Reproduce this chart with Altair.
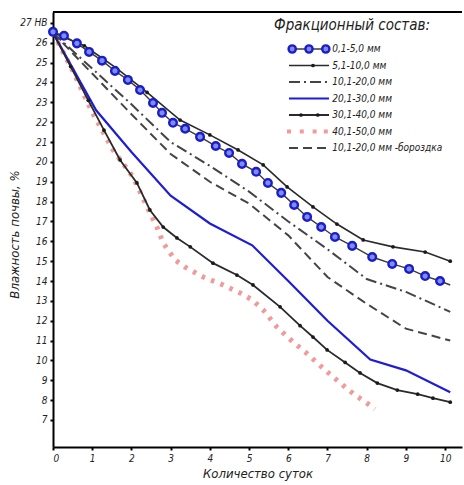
import altair as alt
import pandas as pd

# ---------------- data ----------------
labels = ["0,1-5,0 мм", "5,1-10,0 мм", "10,1-20,0 мм", "20,1-30,0 мм",
          "30,1-40,0 мм", "40,1-50,0 мм", "10,1-20,0 мм -бороздка"]

day_s1 = [0, 0.28, 0.61, 0.92, 1.25, 1.58, 1.91, 2.22, 2.55, 2.78, 3.06, 3.37, 3.75,
          4.15, 4.49, 4.82, 5.18, 5.48, 5.82, 6.15, 6.48, 6.84, 7.19, 7.63, 8.14,
          8.65, 9.08, 9.49, 9.87, 10.13]
val_s1 = [26.55, 26.35, 25.97, 25.54, 25.1, 24.58, 24.13, 23.62, 22.97, 22.47, 21.97,
          21.67, 21.26, 20.8, 20.45, 19.9, 19.5, 18.94, 18.44, 17.83, 17.23, 16.72,
          16.22, 15.77, 15.21, 14.86, 14.61, 14.25, 14.0, 13.8]

day_s2 = [0, 0.8, 1.6, 2.4, 3.24, 4.0, 4.72, 5.36, 5.97, 6.63, 7.24, 7.91, 8.67, 9.49, 10.13]
val_s2 = [26.5, 25.85, 24.75, 23.5, 22.11, 21.36, 20.6, 19.85, 18.74, 17.73, 16.87,
          16.07, 15.72, 15.46, 15.0]

day_s3 = [0, 1, 2, 3, 4, 5, 6, 7, 8, 9, 10.13]
val_s3 = [26.5, 24.7, 22.9, 21.0, 19.8, 18.5, 17.0, 15.6, 14.1, 13.45, 12.45]

day_s4 = [0, 1.1, 2, 3, 4, 5.08, 6, 7, 8.09, 9, 10.13]
val_s4 = [26.5, 22.6, 20.5, 18.3, 16.9, 15.8, 14.0, 12.0, 10.05, 9.5, 8.4]

day_s5 = [0, 0.45, 0.9, 1.3, 1.71, 2.14, 2.47, 2.81, 3.16, 3.5, 4.08, 4.69, 5.1, 5.79,
          6.3, 6.63, 6.99, 7.45, 7.83, 8.27, 8.78, 9.3, 9.69, 10.13]
val_s5 = [26.5, 24.8, 23.1, 21.6, 20.1, 18.94, 17.58, 16.72, 16.17, 15.72, 14.9, 14.3,
          13.8, 12.7, 11.75, 11.18, 10.53, 9.9, 9.37, 8.86, 8.51, 8.3, 8.1, 7.9]

day_s6 = [0, 0.5, 1, 1.53, 2.04, 2.4, 2.65, 2.81, 3.11, 3.37, 3.83, 4.34, 4.77, 5.08,
          5.36, 5.71, 6.12, 6.43, 6.89, 7.14, 7.45, 7.7, 8.0, 8.21]
val_s6 = [26.5, 24.6, 22.5, 20.6, 19.24, 17.73, 16.72, 15.92, 15.06, 14.7, 14.2, 13.8,
          13.4, 13.05, 12.54, 11.68, 10.93, 10.43, 9.6, 9.17, 8.66, 8.26, 7.86, 7.55]

day_s7 = [0, 1, 2, 3, 4, 5, 6, 7, 8, 9, 10.13]
val_s7 = [26.5, 24.45, 22.4, 20.4, 19.0, 17.9, 16.3, 14.2, 12.85, 11.6, 11.0]

x_ticks = list(range(0, 11))
y_ticks = list(range(7, 28))

series_days = [day_s1, day_s2, day_s3, day_s4, day_s5, day_s6, day_s7]
series_vals = [val_s1, val_s2, val_s3, val_s4, val_s5, val_s6, val_s7]

rows = []
for lab, ds, vs in zip(labels, series_days, series_vals):
    for d, v in zip(ds, vs):
        rows.append({"series": lab, "day": d, "moist": v})
df = pd.DataFrame(rows)

# ---------------- styling ----------------
W, H = 409, 435
FONT = "DejaVu Sans Condensed"

xscale = alt.Scale(domain=[0, 10.43], nice=False, zero=False)
yscale = alt.Scale(domain=[5.64, 27.55], nice=False, zero=False)

x_enc = alt.X("day:Q", scale=xscale,
              axis=alt.Axis(values=x_ticks, title="Количество суток", titlePadding=4,
                            labelPadding=3, format="d"))
y_enc = alt.Y("moist:Q", scale=yscale,
              axis=alt.Axis(values=y_ticks, title="Влажность почвы, %",
                            titleX=-32, titleY=222, titleAngle=270,
                            titleAlign="center", titleBaseline="bottom",
                            labelPadding=3, format="d",
                            labelExpr="datum.value == 27 ? '27 НВ' : datum.label"))

line_styles = [
    dict(color="#3a3a3a", strokeWidth=1.4),
    dict(color="#2a2a2a", strokeWidth=1.6),
    dict(color="#444444", strokeWidth=2.0, strokeDash=[11, 4, 2, 4]),
    dict(color="#1d1dd6", strokeWidth=2.2),
    dict(color="#2a2a2a", strokeWidth=1.8),
    dict(color="#f19a9a", strokeWidth=5, strokeDash=[3.5, 6.5]),
    dict(color="#444444", strokeWidth=2.0, strokeDash=[9, 5]),
]

base = alt.Chart(df)
draw_order = [5, 6, 2, 3, 4, 1, 0]
data_layers = []
for i in draw_order:
    lab = labels[i]
    data_layers.append(
        base.transform_filter(alt.datum.series == lab)
        .mark_line(**line_styles[i])
        .encode(x=x_enc, y=y_enc)
    )

# small dot markers on the 5.1-10 and 30.1-40 curves
for i in [1, 4]:
    lab = labels[i]
    data_layers.append(
        base.transform_filter(alt.datum.series == lab)
        .transform_filter(alt.datum.day > 0)
        .mark_circle(color="#1a1a1a", size=14, opacity=1)
        .encode(x=x_enc, y=y_enc)
    )

# blue circle markers
data_layers.append(
    base.transform_filter(alt.datum.series == labels[0])
    .transform_filter(alt.datum.day < 10)
    .mark_point(shape="circle", size=58, filled=True, fill="#7c8ef0",
                stroke="#1c1cc8", strokeWidth=2.4, opacity=1)
    .encode(x=x_enc, y=y_enc)
)

# top frame line
data_layers.append(
    alt.Chart(alt.Data(values=[{}])).mark_rule(color="black", strokeWidth=2)
    .encode(x=alt.value(0), x2=alt.value(W), y=alt.value(0))
)

data_layer = alt.layer(*data_layers)

# ---------------- hand-built legend (own scales) ----------------
lx_scale = alt.Scale(domain=[0, 1], range=[236, 276], nice=False, zero=False)
ly_scale = alt.Scale(type="point", domain=labels, range=[37, 136], padding=0)

leg_layers = []
for i, lab in enumerate(labels):
    if i == 5:
        continue
    seg = pd.DataFrame({"lx": [0, 1], "label": [lab, lab]})
    leg_layers.append(
        alt.Chart(seg).mark_line(**line_styles[i]).encode(
            x=alt.X("lx:Q", scale=lx_scale, axis=None),
            y=alt.Y("label:N", scale=ly_scale, axis=None))
    )

pos_df = {
    0: [0.08, 0.5, 0.92],
    1: [0.6],
    4: [0.3, 0.72],
    5: [0.0, 0.32, 0.64, 0.92],
}
for i, poss in pos_df.items():
    mdf = pd.DataFrame({"lx": poss, "label": [labels[i]] * len(poss)})
    if i == 0:
        mk = alt.Chart(mdf).mark_point(shape="circle", size=52, filled=True, fill="#7c8ef0",
                                       stroke="#1c1cc8", strokeWidth=2.4, opacity=1)
    elif i == 5:
        mk = alt.Chart(mdf).mark_square(color="#f19a9a", size=16, opacity=1)
    else:
        mk = alt.Chart(mdf).mark_circle(color="#1a1a1a", size=14, opacity=1)
    leg_layers.append(mk.encode(
        x=alt.X("lx:Q", scale=lx_scale, axis=None),
        y=alt.Y("label:N", scale=ly_scale, axis=None)))

txt_df = pd.DataFrame({"label": labels, "lx": [1.08] * len(labels)})
leg_layers.append(
    alt.Chart(txt_df).mark_text(align="left", baseline="middle", font=FONT,
                                fontStyle="italic", fontSize=10, color="#222")
    .encode(x=alt.X("lx:Q", scale=lx_scale, axis=None),
            y=alt.Y("label:N", scale=ly_scale, axis=None),
            text="label:N")
)
leg_layers.append(
    alt.Chart(alt.Data(values=[{}])).mark_text(align="center", baseline="middle", font=FONT,
                                               fontStyle="italic", fontSize=15, color="#222")
    .encode(x=alt.value(299), y=alt.value(13), text=alt.value("Фракционный состав:"))
)

legend_layer = alt.layer(*leg_layers)

chart = (
    alt.layer(data_layer, legend_layer)
    .resolve_scale(x="independent", y="independent")
    .properties(width=W, height=H,
                padding={"left": 53, "top": 12, "right": 2, "bottom": 38},
                autosize=alt.AutoSizeParams(type="none"))
    .configure_view(stroke=None)
    .configure_axis(domainColor="black", domainWidth=2, tickColor="black", tickWidth=2,
                    tickSize=3, labelFont=FONT, labelFontStyle="italic", labelFontSize=10,
                    labelColor="#222", titleFont=FONT, titleFontStyle="italic",
                    titleFontWeight="normal", titleFontSize=13, titleColor="#222",
                    grid=False)
)

chart.save("out.html", embed_options={"renderer": "svg", "actions": False})
